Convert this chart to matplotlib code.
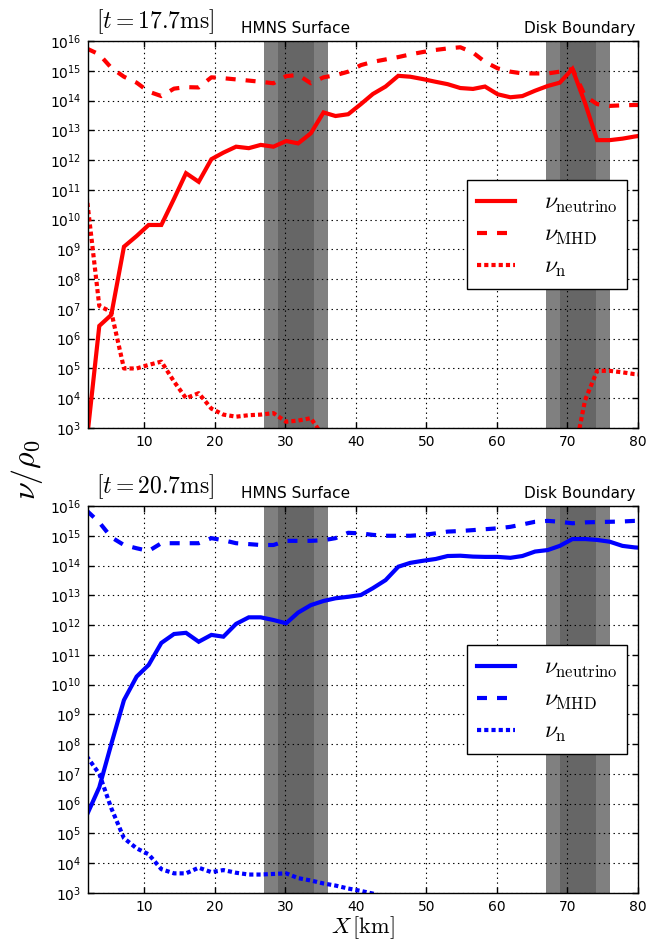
import numpy as np
import matplotlib
matplotlib.use("Agg")
import matplotlib.pyplot as plt
from matplotlib.ticker import LogFormatterSciNotation, NullLocator, FixedLocator
from matplotlib.font_manager import FontProperties
import matplotlib.transforms as mtransforms

plt.rcParams['lines.scale_dashes'] = False

# ---------------- data (log10 of nu/rho0) ----------------
x_km = [1.8, 3.6, 5.3, 7.1, 8.9, 10.6, 12.4, 14.2, 15.9, 17.7, 19.5, 21.2, 23.0, 24.8,
        26.5, 28.3, 30.1, 31.8, 33.6, 35.4, 37.1, 38.9, 40.7, 42.4, 44.2, 46.0, 47.7,
        49.5, 51.3, 53.0, 54.8, 56.6, 58.3, 60.1, 61.9, 63.6, 65.4, 67.2, 68.9, 70.7,
        72.5, 74.2, 76.0, 77.8, 79.5, 81.3]

nan = np.nan
# t = 17.7 ms
top_neutrino = [2.5, 6.43, 6.8, 9.09, 9.45, 9.82, 9.82, 10.7, 11.56, 11.27, 12.03, 12.25,
                12.45, 12.40, 12.51, 12.45, 12.64, 12.56, 12.9, 13.6, 13.48, 13.54, 13.88,
                14.22, 14.47, 14.83, 14.80, 14.72, 14.63, 14.55, 14.42, 14.39, 14.47, 14.21,
                14.11, 14.15, 14.33, 14.49, 14.6, 15.06, 13.91, 12.67, 12.67, 12.72, 12.79,
                12.85]
top_mhd = [15.75, 15.55, 15.1, 14.8, 14.6, 14.3, 14.15, 14.4, 14.45, 14.44, 14.78, 14.75,
           14.71, 14.67, 14.63, 14.58, 14.82, 14.86, 14.58, 14.78, 14.85, 14.97, 15.19,
           15.3, 15.38, 15.46, 15.55, 15.63, 15.7, 15.75, 15.79, 15.61, 15.3, 15.08, 14.97,
           14.91, 14.91, 14.91, 14.97, 15.06, 14.15, 13.88, 13.82, 13.84, 13.85, 13.85]
top_n = [10.8, 7.1, 6.9, 5.0, 5.0, 5.12, 5.23, 4.56, 4.0, 4.17, 3.65, 3.45, 3.38, 3.43,
         3.45, 3.5, 3.21, 3.25, 3.33, 2.7, nan, nan, nan, nan, nan, nan, nan, nan, nan,
         nan, nan, nan, nan, nan, nan, nan, nan, nan, nan, 1.8, 3.94, 4.92, 4.92, 4.87,
         4.81, 4.78]

# t = 20.7 ms
bot_neutrino = [5.6, 6.55, 8.0, 9.48, 10.27, 10.66, 11.4, 11.7, 11.74, 11.44, 11.67, 11.61,
                12.04, 12.26, 12.26, 12.17, 12.06, 12.42, 12.67, 12.81, 12.9, 12.95, 13.01,
                13.24, 13.51, 13.96, 14.09, 14.16, 14.22, 14.32, 14.33, 14.3, 14.29, 14.29,
                14.26, 14.32, 14.47, 14.52, 14.66, 14.89, 14.89, 14.86, 14.8, 14.66, 14.61,
                14.58]
bot_mhd = [15.85, 15.45, 14.95, 14.69, 14.58, 14.49, 14.75, 14.75, 14.75, 14.75, 14.92,
           14.85, 14.75, 14.72, 14.69, 14.69, 14.83, 14.83, 14.83, 14.85, 14.92, 15.1,
           15.08, 15.03, 15.0, 15.0, 15.0, 15.03, 15.08, 15.14, 15.16, 15.19, 15.22, 15.25,
           15.3, 15.38, 15.47, 15.5, 15.47, 15.42, 15.45, 15.46, 15.47, 15.48, 15.5, 15.5]
bot_n = [7.6, 7.0, 5.85, 4.84, 4.5, 4.3, 3.8, 3.66, 3.66, 3.85, 3.7, 3.77, 3.68, 3.62,
         3.62, 3.64, 3.66, 3.5, 3.42, 3.32, 3.25, 3.15, 3.07, 2.98, 2.85, nan, nan, nan,
         nan, nan, nan, nan, nan, nan, nan, nan, nan, nan, nan, nan, nan, nan, nan, nan,
         nan, nan]

times = ["17.7", "20.7"]
colors = ["#ff0000", "#0000ff"]
panels = [(top_neutrino, top_mhd, top_n), (bot_neutrino, bot_mhd, bot_n)]
labels = [r"$\nu_{\rm neutrino}$", r"$\nu_{\rm MHD}$", r"$\nu_{\rm n}$"]

hmns_outer = (27, 36)
hmns_inner = (29, 34)
disk_outer = (67, 76)
disk_inner = (69, 74)
region_labels = ["HMNS Surface", "Disk Boundary"]
xticks = [10, 20, 30, 40, 50, 60, 70, 80]

# ---------------- figure ----------------
fig = plt.figure(figsize=(6.48, 9.39), dpi=100)
W, H = 648.0, 939.0
left = 88 / W
width = (638 - 88) / W
axes_px = [(41, 428), (506, 893)]

x_arr = np.array(x_km)
leg_prop = FontProperties(size=17, math_fontfamily='cm')

for i, (yt, yb) in enumerate(axes_px):
    ax = fig.add_axes([left, 1 - yb / H, width, (yb - yt) / H])
    ax.set_yscale('log')
    ax.set_xlim(2, 80)
    ax.set_ylim(1e3, 1e16)

    for (a, b), c in [(hmns_outer, '#808080'), (disk_outer, '#808080'),
                      (hmns_inner, '#666666'), (disk_inner, '#666666')]:
        ax.axvspan(a, b, color=c, lw=0, zorder=1)

    neu, mhd, nn = panels[i]
    col = colors[i]
    ax.plot(x_arr, 10 ** np.array(neu, dtype=float), color=col, lw=3, ls='-',
            label=labels[0], zorder=3, solid_joinstyle='miter')
    ax.plot(x_arr, 10 ** np.array(mhd, dtype=float), color=col, lw=3,
            ls=(0, (7.2, 7.2)), label=labels[1], zorder=3, dash_capstyle='butt')
    ax.plot(x_arr, 10 ** np.array(nn, dtype=float), color=col, lw=3,
            ls=(0, (3, 2.2)), label=labels[2], zorder=3, dash_capstyle='butt')

    ax.set_xticks(xticks)
    ax.yaxis.set_major_locator(FixedLocator(10.0 ** np.arange(3, 17)))
    ax.yaxis.set_major_formatter(LogFormatterSciNotation())
    ax.yaxis.set_minor_locator(NullLocator())
    ax.xaxis.set_minor_locator(NullLocator())
    ax.tick_params(direction='in', top=True, right=True, length=4, width=1,
                   labelsize=10, pad=5)
    ax.grid(True, color='k', ls=(0, (1, 2.5)), lw=0.8)
    ax.set_axisbelow(False)
    for s in ax.spines.values():
        s.set_linewidth(1.0)
        s.set_zorder(5)

    ax.text(0.015, 1.012, r"$[t=%s\mathrm{ms}]$" % times[i], transform=ax.transAxes,
            ha='left', va='bottom', fontsize=17, math_fontfamily='cm')
    trans = mtransforms.blended_transform_factory(ax.transData, ax.transAxes)
    ax.text(np.mean(hmns_outer), 1.012, region_labels[0], transform=trans,
            ha='center', va='bottom', fontsize=11)
    ax.text(np.mean(disk_outer) + 0.3, 1.012, region_labels[1], transform=trans,
            ha='center', va='bottom', fontsize=11)

    leg = ax.legend(loc='center right', prop=leg_prop, fancybox=False, framealpha=1,
                    edgecolor='k', handlelength=1.6, handletextpad=1.25,
                    borderpad=0.4, labelspacing=0.3, borderaxespad=0.45)
    leg.get_frame().set_linewidth(1.0)
    leg.set_zorder(10)

    if i == 1:
        ax.set_xlabel(r"$X\,[\mathrm{km}]$", fontsize=16, math_fontfamily='cm', labelpad=0)

fig.text(0.042, 0.5, r"$\nu/\rho_0$", rotation=90, ha='center', va='center',
         fontsize=23, math_fontfamily='cm')

fig.savefig("out.png", dpi=100)
